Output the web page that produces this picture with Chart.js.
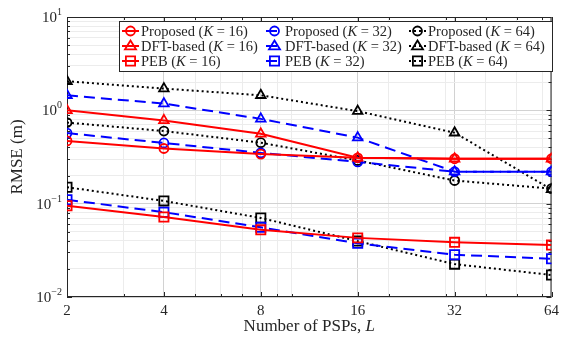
<!DOCTYPE html>
<html>
<head>
<meta charset="utf-8">
<script src="https://cdn.jsdelivr.net/npm/chart.js@4.4.1/dist/chart.umd.min.js"></script>
<style>
  html, body { margin: 0; padding: 0; background: #fff; }
  #wrap { width: 564px; height: 341px; }
</style>
</head>
<body>
<div id="wrap"><canvas id="rmseChart" width="564" height="341"></canvas></div>
<script>
// number of PSPs
const numPSPs = [2, 4, 8, 16, 32, 64];

// RMSE values (m)
const proposedK16 = [0.47, 0.39, 0.34, 0.31, 0.303, 0.303];
const dftK16 = [1.0, 0.78, 0.56, 0.31, 0.303, 0.303];
const pebK16 = [0.095, 0.072, 0.0524, 0.043, 0.0385, 0.036];

const proposedK32 = [0.57, 0.447, 0.35, 0.28, 0.22, 0.22];
const dftK32 = [1.45, 1.18, 0.81, 0.51, 0.22, 0.22];
const pebK32 = [0.11, 0.081, 0.0558, 0.0376, 0.0284, 0.0257];

const proposedK64 = [0.74, 0.60, 0.45, 0.29, 0.177, 0.145];
const dftK64 = [2.05, 1.71, 1.45, 0.98, 0.575, 0.142];
const pebK64 = [0.15, 0.107, 0.0703, 0.0397, 0.0225, 0.0172];

// axis ticks
const xMajorTicks = [2, 4, 8, 16, 32, 64];
const xMinorTicks = [3, 5, 6, 7, 9, 10, 20, 30, 40, 50, 60];
const yMajorTicks = [0.01, 0.1, 1, 10];
const yTickExponents = ['\u22122', '\u22121', '0', '1'];
const yMinorTicks = [];
[0.01, 0.1, 1].forEach(d => { for (let m = 2; m <= 9; m++) yMinorTicks.push(+(d * m).toPrecision(3)); });

const SERIF = '"Liberation Serif", "DejaVu Serif", serif';
const AXIS_COLOR = '#262626';

const styles = {
  16: { color: '#ff0000', dash: [] },
  32: { color: '#0000ff', dash: [11, 6] },
  64: { color: '#000000', dash: [2, 3] }
};
const markers = { proposed: ['circle', 4.5], dft: ['triangle', 5.5], peb: ['rect', 6.5] };

function makeSet(label, data, k, kind) {
  const s = styles[k];
  return {
    label: label,
    data: data,
    borderColor: s.color,
    borderDash: s.dash,
    borderWidth: 2,
    pointStyle: markers[kind][0],
    pointRadius: markers[kind][1],
    pointBorderWidth: 1.8,
    pointBorderColor: s.color,
    pointBackgroundColor: 'rgba(0,0,0,0)',
    tension: 0,
    k: k,
    kind: kind
  };
}

const datasets = [
  makeSet('Proposed', proposedK16, 16, 'proposed'),
  makeSet('DFT-based', dftK16, 16, 'dft'),
  makeSet('PEB', pebK16, 16, 'peb'),
  makeSet('Proposed', proposedK32, 32, 'proposed'),
  makeSet('DFT-based', dftK32, 32, 'dft'),
  makeSet('PEB', pebK32, 32, 'peb'),
  makeSet('Proposed', proposedK64, 64, 'proposed'),
  makeSet('DFT-based', dftK64, 64, 'dft'),
  makeSet('PEB', pebK64, 64, 'peb')
];

const isMajor = (list, v) => list.some(t => Math.abs(t - v) / t < 1e-6);

// frame, inward ticks, tick labels and titles
const decorPlugin = {
  id: 'decor',
  beforeDatasetsDraw(chart) {
    const { ctx, chartArea: a, scales } = chart;
    ctx.save();
    ctx.strokeStyle = AXIS_COLOR;
    ctx.lineWidth = 1;
    ctx.setLineDash([]);
    ctx.strokeRect(a.left + 0.5, a.top + 0.5, a.right - a.left - 1, a.bottom - a.top - 1);
    ctx.beginPath();
    xMajorTicks.concat(xMinorTicks).forEach(v => {
      const len = isMajor(xMajorTicks, v) ? 5 : 3;
      const px = Math.round(scales.x.getPixelForValue(v)) + 0.5;
      ctx.moveTo(px, a.bottom); ctx.lineTo(px, a.bottom - len);
      ctx.moveTo(px, a.top); ctx.lineTo(px, a.top + len);
    });
    yMajorTicks.concat(yMinorTicks).forEach(v => {
      const len = isMajor(yMajorTicks, v) ? 5 : 3;
      const py = Math.round(scales.y.getPixelForValue(v)) + 0.5;
      ctx.moveTo(a.left, py); ctx.lineTo(a.left + len, py);
      ctx.moveTo(a.right, py); ctx.lineTo(a.right - len, py);
    });
    ctx.stroke();
    ctx.restore();
  },
  afterDraw(chart) {
    const { ctx, chartArea: a, scales } = chart;
    ctx.save();
    ctx.fillStyle = AXIS_COLOR;
    // y tick labels 10^n
    yMajorTicks.forEach((v, i) => {
      const py = scales.y.getPixelForValue(v);
      ctx.font = '10px ' + SERIF;
      const ew = ctx.measureText(yTickExponents[i]).width;
      ctx.textAlign = 'left';
      ctx.textBaseline = 'alphabetic';
      const right = a.left - 5;
      ctx.fillText(yTickExponents[i], right - ew, py - 2);
      ctx.font = '15px ' + SERIF;
      ctx.textAlign = 'right';
      ctx.fillText('10', right - ew, py + 5);
    });
    // y title
    ctx.save();
    ctx.translate(18, (a.top + a.bottom) / 2);
    ctx.rotate(-Math.PI / 2);
    ctx.font = '17px ' + SERIF;
    ctx.textAlign = 'center';
    ctx.textBaseline = 'middle';
    ctx.fillText('RMSE (m)', 0, 0);
    ctx.restore();
    // x title
    drawRich(ctx, [['Number of PSPs, ', false], ['L', true]], (a.left + a.right) / 2, 331, 17, 'center');
    ctx.restore();
  }
};

function drawRich(ctx, parts, x, y, size, align) {
  let total = 0;
  const widths = parts.map(p => {
    ctx.font = (p[1] ? 'italic ' : '') + size + 'px ' + SERIF;
    const w = ctx.measureText(p[0]).width;
    total += w;
    return w;
  });
  let cx = align === 'center' ? x - total / 2 : x;
  ctx.textAlign = 'left';
  ctx.textBaseline = 'alphabetic';
  parts.forEach((p, i) => {
    ctx.font = (p[1] ? 'italic ' : '') + size + 'px ' + SERIF;
    ctx.fillText(p[0], cx, y);
    cx += widths[i];
  });
  return total;
}

function drawMarker(ctx, style, r, x, y) {
  ctx.beginPath();
  if (style === 'circle') {
    ctx.arc(x, y, r, 0, Math.PI * 2);
  } else if (style === 'triangle') {
    ctx.moveTo(x, y - r);
    ctx.lineTo(x + r, y + r * 0.6);
    ctx.lineTo(x - r, y + r * 0.6);
    ctx.closePath();
  } else {
    const s = r * Math.SQRT1_2;
    ctx.rect(x - s, y - s, 2 * s, 2 * s);
  }
  ctx.stroke();
}

// legend in three columns (one per K)
const legendPlugin = {
  id: 'kLegend',
  afterDraw(chart) {
    const ctx = chart.ctx;
    const box = { left: 119.5, top: 21.5, right: 552.5, bottom: 71.5 };
    const colX = [122, 266, 409];
    const rowY = [31, 46, 61];
    ctx.save();
    ctx.fillStyle = '#fff';
    ctx.fillRect(box.left, box.top, box.right - box.left, box.bottom - box.top);
    ctx.strokeStyle = AXIS_COLOR;
    ctx.lineWidth = 1;
    ctx.strokeRect(box.left, box.top, box.right - box.left, box.bottom - box.top);
    chart.data.datasets.forEach((ds, i) => {
      const col = Math.floor(i / 3), row = i % 3;
      const x0 = colX[col], y0 = rowY[row];
      ctx.strokeStyle = ds.borderColor;
      ctx.lineWidth = 2;
      ctx.setLineDash(ds.borderDash);
      ctx.beginPath();
      ctx.moveTo(x0, y0); ctx.lineTo(x0 + 17, y0);
      ctx.stroke();
      ctx.setLineDash([]);
      ctx.lineWidth = 1.8;
      drawMarker(ctx, ds.pointStyle, ds.pointRadius, x0 + 8.5, y0);
      ctx.fillStyle = AXIS_COLOR;
      drawRich(ctx, [[ds.label + ' (', false], ['K', true], [' = ' + ds.k + ')', false]], x0 + 19, y0 + 4.5, 14.5, 'left');
    });
    ctx.restore();
  }
};

const gridColor = (majors) => ctx => (ctx.tick && isMajor(majors, ctx.tick.value)) ? '#d2d2d2' : '#ececec';
const gridDash = (majors) => ctx => (ctx.tick && isMajor(majors, ctx.tick.value)) ? [5, 4] : [1, 2];

new Chart(document.getElementById('rmseChart'), {
  type: 'line',
  data: {
    datasets: datasets.map(d => Object.assign({}, d, {
      data: d.data.map((v, i) => ({ x: numPSPs[i], y: v }))
    }))
  },
  options: {
    responsive: false,
    animation: false,
    layout: { padding: { top: 17, right: 9, left: 0, bottom: 0 } },
    plugins: { legend: { display: false }, tooltip: { enabled: false } },
    scales: {
      x: {
        type: 'logarithmic',
        min: 2,
        max: 64,
        afterBuildTicks: s => { s.ticks = xMajorTicks.concat(xMinorTicks).sort((a, b) => a - b).map(v => ({ value: v })); },
        afterFit: s => { s.height = 44; },
        border: { display: false },
        grid: { color: gridColor(xMajorTicks), borderDash: gridDash(xMajorTicks), tickBorderDash: [], drawTicks: false, lineWidth: 1 },
        ticks: {
          autoSkip: false,
          maxRotation: 0,
          padding: 5,
          color: AXIS_COLOR,
          font: { family: SERIF, size: 15 },
          callback: v => isMajor(xMajorTicks, v) ? String(v) : ''
        }
      },
      y: {
        type: 'logarithmic',
        min: 0.01,
        max: 10,
        afterBuildTicks: s => { s.ticks = yMajorTicks.concat(yMinorTicks).sort((a, b) => a - b).map(v => ({ value: v })); },
        afterFit: s => { s.width = 67; },
        border: { display: false },
        grid: { color: gridColor(yMajorTicks), borderDash: gridDash(yMajorTicks), drawTicks: false, lineWidth: 1 },
        ticks: { display: false }
      }
    }
  },
  plugins: [decorPlugin, legendPlugin]
});
</script>
</body>
</html>
